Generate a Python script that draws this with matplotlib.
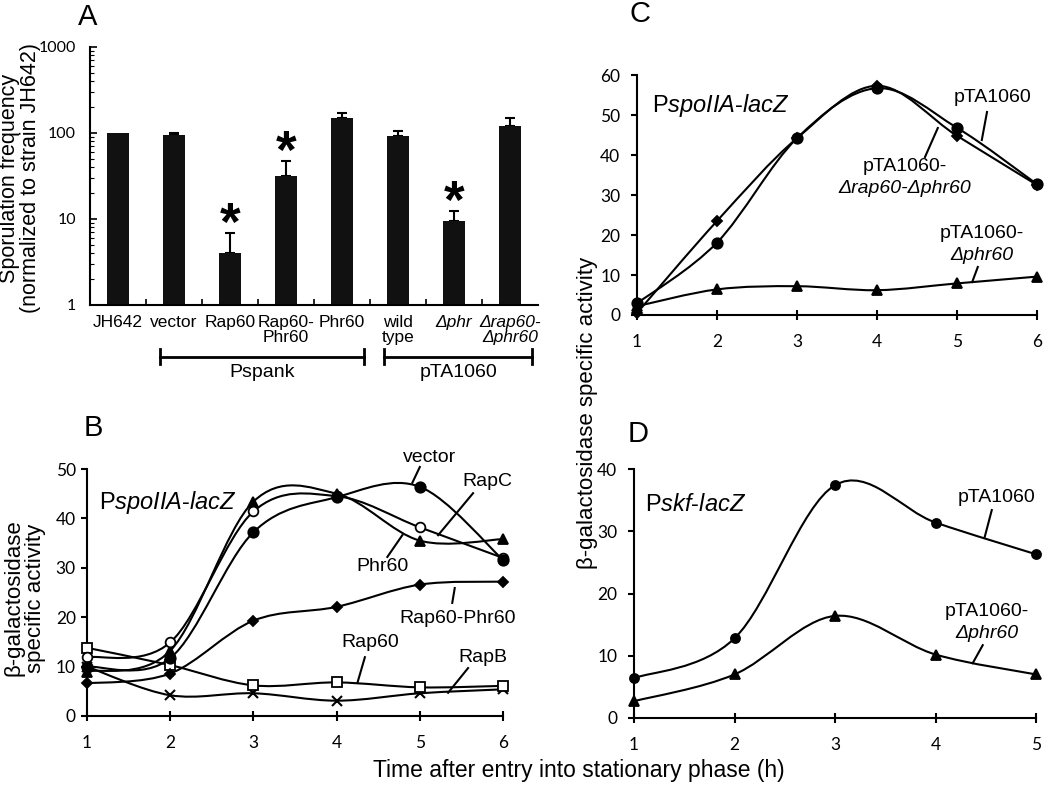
import matplotlib
matplotlib.use("Agg")
import matplotlib.pyplot as plt
import numpy as np
from matplotlib.path import Path
from matplotlib.patches import PathPatch

plt.rcParams['font.family'] = ['Liberation Sans', 'DejaVu Sans']
plt.rcParams['mathtext.fontset'] = 'custom'
plt.rcParams['mathtext.rm'] = 'Liberation Sans'
plt.rcParams['mathtext.it'] = 'Liberation Sans:italic'
plt.rcParams['axes.linewidth'] = 1.5

# panel A: sporulation frequency
strains = ['JH642', 'vector', 'Rap60', 'Rap60-\nPhr60', 'Phr60', 'wild\ntype', 'Δphr', 'Δrap60-\nΔphr60']
spor_freq = [100, 95, 4.0, 32, 149, 93, 9.5, 120]
spor_err = [0, 4, 2.9, 15, 21, 12, 2.9, 30]
significant = [False, False, True, True, False, False, True, False]
italic_strains = [6, 7]
groups = [('Pspank', 1, 4), ('pTA1060', 5, 7)]

# panel B: PspoIIA-lacZ, overexpression
time_b = [1, 2, 3, 4, 5, 6]
b_vector = [10.0, 11.7, 37.2, 44.3, 46.4, 31.6]
b_rapc = [11.9, 14.9, 41.4, 44.5, 38.2, 32.0]
b_phr60 = [9.0, 13.2, 43.4, 45.0, 35.5, 35.8]
b_rap60_phr60 = [6.6, 8.6, 19.3, 22.1, 26.6, 27.2]
b_rap60 = [13.8, 10.3, 6.2, 6.8, 5.8, 6.1]
b_rapb = [10.0, 4.2, 4.6, 3.1, 4.6, 5.4]

# panel C: PspoIIA-lacZ, pTA1060 derivatives
time_c = [1, 2, 3, 4, 5, 6]
c_pta1060 = [2.9, 18.1, 44.2, 56.7, 46.8, 32.7]
c_del_rap_phr = [0.5, 23.5, 44.2, 57.3, 44.8, 32.5]
c_del_phr = [2.2, 6.4, 7.2, 6.2, 7.9, 9.6]

# panel D: Pskf-lacZ
time_d = [1, 2, 3, 4, 5]
d_pta1060 = [6.4, 12.8, 37.4, 31.4, 26.3]
d_del_phr = [2.7, 7.0, 16.4, 10.2, 7.0]

W, H = 1050, 787
fig = plt.figure(figsize=(W / 100, H / 100), dpi=100)


def px_axes(x0, y0, x1, y1):
    # pixel box (left, top, right, bottom) -> figure axes
    return fig.add_axes([x0 / W, 1 - y1 / H, (x1 - x0) / W, (y1 - y0) / H])


def ftext(x, y, s, **kw):
    fig.text(x / W, 1 - y / H, s, **kw)


def smooth_path(x, y):
    # excel-like smoothed line (catmull-rom as cubic bezier)
    pts = np.column_stack([x, y]).astype(float)
    ext = np.vstack([pts[0], pts, pts[-1]])
    verts = [pts[0]]
    codes = [Path.MOVETO]
    for i in range(len(pts) - 1):
        p0, p1, p2, p3 = ext[i], ext[i + 1], ext[i + 2], ext[i + 3]
        verts += [p1 + (p2 - p0) / 6, p2 - (p3 - p1) / 6, p2]
        codes += [Path.CURVE4] * 3
    return Path(verts, codes)


def draw_series(ax, x, y, marker, ms, filled=True, mew=1.3):
    ax.add_patch(PathPatch(smooth_path(x, y), fill=False, lw=1.5, ec='black', zorder=2, clip_on=False))
    ax.plot(x, y, ls='none', marker=marker, ms=ms, mfc='black' if filled else 'white',
            mec='black', mew=mew, zorder=3, clip_on=False)


def style_line_axes(ax, xmax, ymax, ystep, ypad):
    ax.set_xlim(1, xmax)
    ax.set_ylim(0, ymax)
    ax.set_xticks(range(1, xmax + 1))
    ax.set_yticks(range(0, ymax + 1, ystep))
    ax.spines['top'].set_visible(False)
    ax.spines['right'].set_visible(False)
    ax.tick_params(axis='x', direction='inout', length=7, width=1.5, pad=10, labelsize=12.5)
    ax.tick_params(axis='y', direction='out', length=4, width=1.5, pad=ypad, labelsize=12.5)
    for lab in ax.get_xticklabels() + ax.get_yticklabels():
        lab.set_family('Lato')


def leader(ax, text, tx, ty, x0, y0, x1, y1, sub=None, size=14):
    if sub is None:
        ax.text(tx, ty, text, ha='center', va='center', fontsize=size)
    else:
        # second line set in italics
        ax.annotate(text, (tx, ty), xytext=(0, 7.5), textcoords='offset points',
                    ha='center', va='center', fontsize=size)
        ax.annotate(sub, (tx, ty), xytext=(0, -8), textcoords='offset points',
                    ha='center', va='center', fontsize=size, style='italic')
    ax.plot([x0, x1], [y0, y1], color='black', lw=1.5, clip_on=False)


# ---------------- A ----------------
axA = px_axes(90, 47, 538, 305)
pos = np.arange(len(strains))
axA.bar(pos, spor_freq, width=0.41, color='#111111', zorder=2)
err_idx = [i for i in pos if spor_err[i] > 0]
axA.errorbar(pos[err_idx], np.array(spor_freq)[err_idx],
             yerr=[np.zeros(len(err_idx)), np.array(spor_err)[err_idx]],
             fmt='none', ecolor='black', elinewidth=1.5, capsize=3.5, capthick=1.5, zorder=1)
for i, sig in enumerate(significant):
    if sig:
        axA.annotate('*', xy=(i, spor_freq[i] + spor_err[i]), xytext=(0, -5),
                     textcoords='offset points', ha='center', va='baseline',
                     fontsize=38, fontweight='bold')
axA.set_yscale('log')
axA.set_ylim(1, 1000)
axA.set_xlim(-0.5, len(strains) - 0.5)
axA.set_yticks([1, 10, 100, 1000])
axA.set_yticklabels(['1', '10', '100', '1000'])
axA.set_xticks(pos)
axA.set_xticklabels(strains, fontsize=12.5, linespacing=1.05)
for i in italic_strains:
    axA.get_xticklabels()[i].set_style('italic')
axA.set_xticks(pos[:-1] + 0.5, minor=True)
axA.tick_params(axis='x', which='major', length=0, pad=7)
axA.tick_params(axis='x', which='minor', direction='in', length=4, width=1.2)
axA.tick_params(axis='y', which='major', direction='in', length=5, width=1.2, pad=10, labelsize=11.5)
axA.tick_params(axis='y', which='minor', direction='in', length=3, width=0.8)
for lab in axA.get_yticklabels():
    lab.set_family('Lato')
axA.spines['top'].set_visible(False)
axA.spines['right'].set_visible(False)
trA = axA.get_xaxis_transform()
for name, g0, g1 in groups:
    x0, x1 = g0 - 0.25, g1 + 0.4
    axA.plot([x0, x1], [-0.2, -0.2], color='black', lw=2, transform=trA, clip_on=False)
    for xe in (x0, x1):
        axA.plot([xe, xe], [-0.172, -0.228], color='black', lw=2, transform=trA, clip_on=False)
    axA.text((x0 + x1) / 2, -0.26, name, transform=trA, ha='center', va='center', fontsize=14)

ftext(20, 178, 'Sporulation frequency\n(normalized to strain JH642)', rotation=90,
      ha='center', va='center', fontsize=15.5, linespacing=1.05)
ftext(88, 17, 'A', ha='center', va='center', fontsize=21)

# ---------------- B ----------------
axB = px_axes(87, 469, 503, 716)
draw_series(axB, time_b, b_rapb, 'x', 6.5, mew=1.5)
draw_series(axB, time_b, b_rap60, 's', 7, filled=False)
draw_series(axB, time_b, b_rap60_phr60, 'D', 5)
draw_series(axB, time_b, b_phr60, '^', 7)
draw_series(axB, time_b, b_rapc, 'o', 7, filled=False)
draw_series(axB, time_b, b_vector, 'o', 7.5)
style_line_axes(axB, 6, 50, 10, 4)
axB.text(1.15, 43.3, r'P$\mathit{spoIIA}$-$\mathit{lacZ}$', ha='left', va='center', fontsize=17)
leader(axB, 'vector', 5.12, 52.4, 5.0, 50.4, 4.91, 47.2)
leader(axB, 'RapC', 5.81, 47.4, 5.64, 45.1, 5.22, 36.6)
leader(axB, 'Phr60', 4.55, 30.2, 4.61, 32.2, 4.79, 36.6)
leader(axB, 'Rap60-Phr60', 5.45, 19.8, 5.39, 22.9, 5.42, 25.9)
leader(axB, 'Rap60', 4.40, 14.8, 4.34, 11.9, 4.25, 6.7)
leader(axB, 'RapB', 5.76, 11.9, 5.58, 9.7, 5.34, 4.7)
ftext(25, 598, 'β-galactosidase\nspecific activity', rotation=90,
      ha='center', va='center', fontsize=16, linespacing=1.0)
ftext(93, 428, 'B', ha='center', va='center', fontsize=21)

# ---------------- C ----------------
axC = px_axes(637, 75, 1037, 315)
draw_series(axC, time_c, c_del_phr, '^', 7)
draw_series(axC, time_c, c_del_rap_phr, 'D', 5.5)
draw_series(axC, time_c, c_pta1060, 'o', 7.5)
style_line_axes(axC, 6, 60, 10, 8)
axC.text(1.19, 52.3, r'P$\mathit{spoIIA}$-$\mathit{lacZ}$', ha='left', va='center', fontsize=17)
leader(axC, 'pTA1060', 5.44, 54.3, 5.375, 50.75, 5.31, 43.75)
leader(axC, 'pTA1060-', 4.35, 34.5, 4.6, 39.5, 4.76, 46.75, sub='Δrap60-Δphr60')
leader(axC, 'pTA1060-', 5.31, 17.75, 5.26, 12.0, 5.19, 8.25, sub='Δphr60')
ftext(640, 14, 'C', ha='center', va='center', fontsize=21)

# ---------------- D ----------------
axD = px_axes(634, 469, 1036, 718)
draw_series(axD, time_d, d_del_phr, '^', 6.5)
draw_series(axD, time_d, d_pta1060, 'o', 6.5)
style_line_axes(axD, 5, 40, 10, 8)
axD.text(1.11, 34.2, r'P$\mathit{skf}$-$\mathit{lacZ}$', ha='left', va='center', fontsize=17)
leader(axD, 'pTA1060', 4.61, 35.5, 4.56, 33.4, 4.49, 29.1)
leader(axD, 'pTA1060-', 4.51, 15.4, 4.47, 11.7, 4.37, 8.8, sub='Δphr60')
ftext(638, 434, 'D', ha='center', va='center', fontsize=21)

ftext(587, 413, 'β-galactosidase specific activity', rotation=90,
      ha='center', va='center', fontsize=16)
ftext(579, 770, 'Time after entry into stationary phase (h)', ha='center', va='center', fontsize=16.5)

fig.savefig('out.png', dpi=100)
